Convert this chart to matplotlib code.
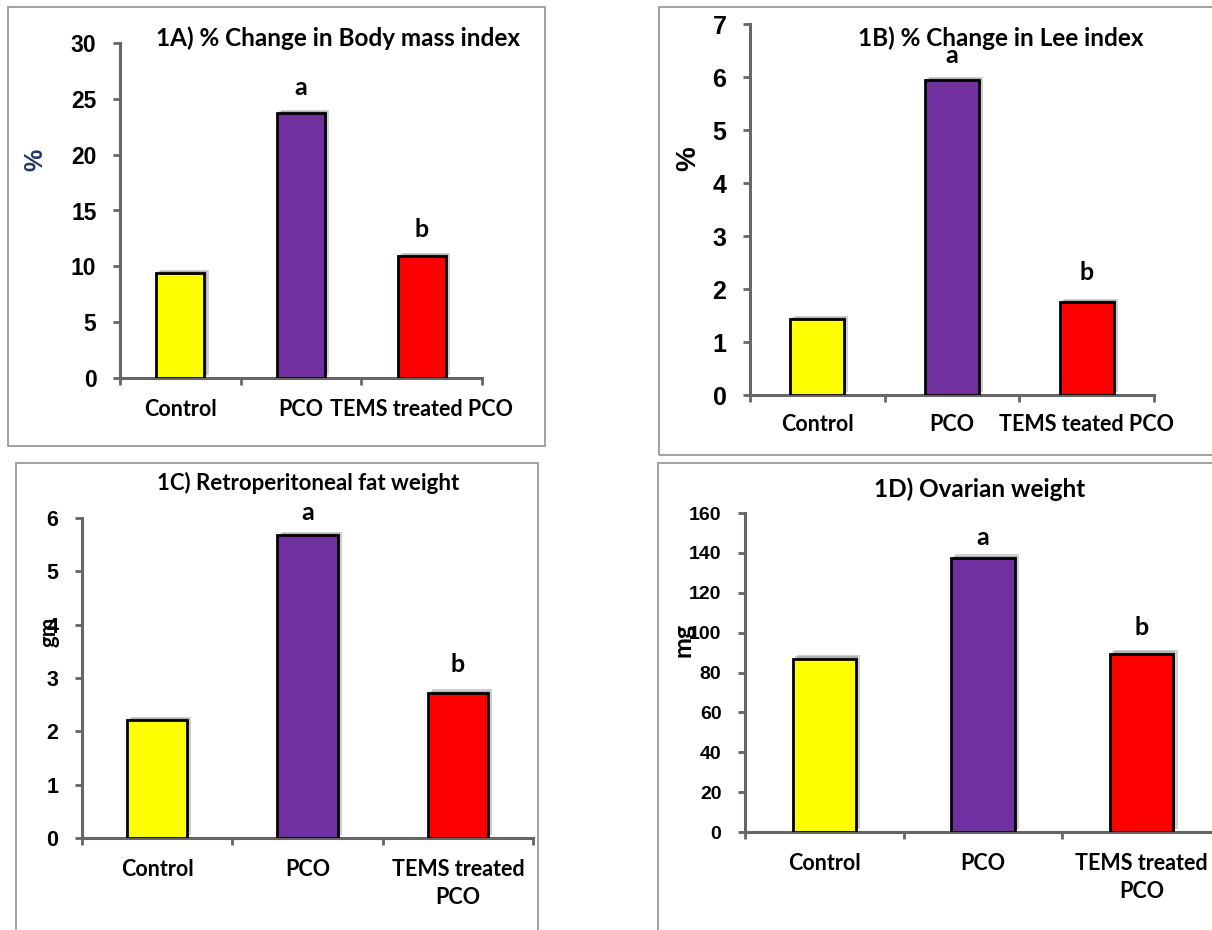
import matplotlib
matplotlib.use('Agg')
import matplotlib.pyplot as plt
import matplotlib.patheffects as pe
from matplotlib.patches import Rectangle

W, H = 1212, 930

bar_colors = ['#FFFF00', '#7030A0', '#FF0000']
letters = ['', 'a', 'b']

# 1A
bmi_change = [9.4, 23.7, 10.9]
labels_a = ['Control', 'PCO', 'TEMS treated PCO']
# 1B
lee_change = [1.43, 5.94, 1.75]
labels_b = ['Control', 'PCO', 'TEMS teated PCO']
# 1C
fat_weight = [2.21, 5.68, 2.72]
# 1D
ovary_weight = [87, 137.5, 89.5]
labels_cd = ['Control', 'PCO', 'TEMS treated\nPCO']

CAL = ['Lato', 'DejaVu Sans']
ARI = ['Liberation Sans', 'DejaVu Sans']
AXCOL = '#666666'

fig = plt.figure(figsize=(W / 100, H / 100), dpi=100)


def fbox(x0, y0, x1, y1):
    return [x0 / W, 1 - y1 / H, (x1 - x0) / W, (y1 - y0) / H]


def frame(x0, y0, x1, y1):
    fig.patches.append(Rectangle((x0 / W, 1 - y1 / H), (x1 - x0) / W, (y1 - y0) / H,
                                 transform=fig.transFigure, fill=False,
                                 edgecolor='#9a9a9a', linewidth=1.3))


def panel(box, values, ymax, ystep, xlabels, tsize, csize, pad, offs):
    ax = fig.add_axes(fbox(*box))
    x = range(len(values))
    ax.bar(x, values, width=0.4, color=bar_colors, edgecolor='black', linewidth=2,
           zorder=3,
           path_effects=[pe.SimplePatchShadow(offset=(3, 2.5), shadow_rgbFace='#666666', alpha=0.3),
                         pe.SimplePatchShadow(offset=(1.5, 1.5), shadow_rgbFace='#666666', alpha=0.3),
                         pe.Normal()])
    ax.set_xlim(-0.5, 2.5)
    ax.set_ylim(0, ymax)
    yt = list(range(0, ymax + 1, ystep))
    ax.set_yticks(yt, [str(v) for v in yt], fontsize=tsize, fontweight='bold', fontfamily=ARI)
    ax.set_xticks([-0.5, 0.5, 1.5, 2.5], [])
    ax.set_xticks(list(x), xlabels, minor=True, fontsize=csize, fontweight='bold',
                  fontfamily=CAL, linespacing=1.45)
    for s in ['top', 'right']:
        ax.spines[s].set_visible(False)
    for s in ['left', 'bottom']:
        ax.spines[s].set_color(AXCOL)
        ax.spines[s].set_linewidth(2.2)
    ax.tick_params(axis='y', direction='out', length=5, width=2, color=AXCOL, pad=12)
    ax.tick_params(axis='x', which='major', direction='out', length=5, width=2, color=AXCOL)
    ax.tick_params(axis='x', which='minor', length=0, pad=pad)
    for i, (v, s) in enumerate(zip(values, letters)):
        if s:
            ax.annotate(s, (i, v), xytext=(0, offs[i] * 0.72), textcoords='offset points',
                        ha='center', va='center', fontsize=18, fontweight='bold',
                        fontfamily=CAL)
    ax.patch.set_alpha(0)
    return ax


def ftext(x, y, s, **kw):
    fig.text(x / W, 1 - y / H, s, ha='center', va='center', fontweight='bold', **kw)


# frames
frame(8, 7, 545, 446)
frame(659, 7, 1240, 455)
frame(16, 463, 538, 960)
frame(658, 463, 1240, 960)

# 1A
panel((120, 43, 482, 378), bmi_change, 30, 5, labels_a, 16.5, 15.5, 15, [0, 26, 27])
ftext(338, 38, '1A) % Change in Body mass index', fontsize=17.5, fontfamily=CAL)
ftext(35, 160, '%', fontsize=18, fontfamily=ARI, color='#1F3864', rotation=90)

# 1B
panel((750, 24, 1154, 395), lee_change, 7, 1, labels_b, 18, 15.5, 14, [0, 25, 30])
ftext(1001, 38, '1B) % Change in Lee index', fontsize=17.5, fontfamily=CAL)
ftext(688, 159, '%', fontsize=20, fontfamily=ARI, rotation=90)

# 1C
panel((82, 518, 533, 838), fat_weight, 6, 1, labels_cd, 15.5, 15.5, 15, [0, 23, 28])
ftext(308, 483, '1C) Retroperitoneal fat weight', fontsize=16, fontfamily=CAL)
ftext(49, 632, 'gm', fontsize=16, fontfamily=CAL, rotation=90)

# 1D
panel((745, 513, 1221, 832), ovary_weight, 160, 20, labels_cd, 14, 15.5, 15, [0, 20, 26])
ftext(980, 489, '1D) Ovarian weight', fontsize=17.5, fontfamily=CAL)
ftext(683, 640, 'mg', fontsize=18, fontfamily=CAL, rotation=90)

fig.savefig('out.png', dpi=100)
